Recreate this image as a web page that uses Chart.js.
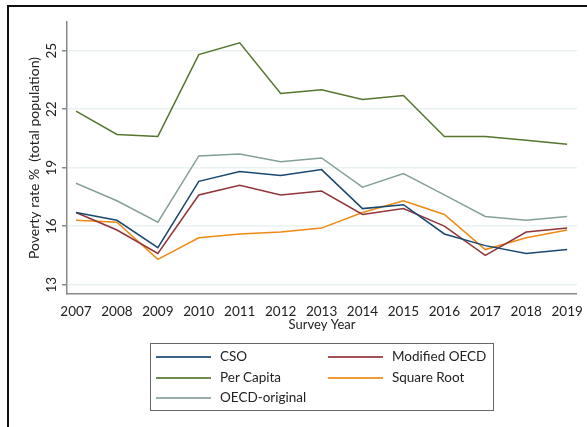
<!DOCTYPE html>
<html>
<head>
<meta charset="utf-8">
<script src="https://cdn.jsdelivr.net/npm/chart.js@4/dist/chart.umd.min.js"></script>
<style>
  body { margin: 0; background: #fff; font-family: Lato, sans-serif; }
  #wrap { position: relative; width: 587px; height: 427px; overflow: hidden; }
  #frame { position: absolute; left: 7px; top: 5px; width: 600px; height: 440px;
           border-left: 2px solid #111; border-top: 2px solid #111; }
  #chart { position: absolute; left: 0; top: 0; }
  #legend { position: absolute; left: 150px; top: 343px; width: 342px; height: 66px;
            border: 1px solid #666; }
  .item { position: absolute; font-size: 13.5px; color: #222; line-height: 16px; }
  .swatch { position: absolute; height: 2px; width: 55px; opacity: 0.85; }
</style>
</head>
<body>
<div id="wrap">
  <div id="frame"></div>
  <canvas id="chart" width="587" height="427"></canvas>
  <div id="legend"></div>
</div>
<script>
// survey years on the x axis
var years = [2007, 2008, 2009, 2010, 2011, 2012, 2013, 2014, 2015, 2016, 2017, 2018, 2019];
var yTicks = [13, 16, 19, 22, 25];

// poverty rate % by equivalence scale
var cso =          [16.7, 16.3, 14.9, 18.3, 18.8, 18.6, 18.9, 16.9, 17.1, 15.6, 15.0, 14.6, 14.8];
var modifiedOecd = [16.7, 15.8, 14.6, 17.6, 18.1, 17.6, 17.8, 16.6, 16.9, 16.0, 14.5, 15.7, 15.9];
var perCapita =    [21.9, 20.7, 20.6, 24.8, 25.4, 22.8, 23.0, 22.5, 22.7, 20.6, 20.6, 20.4, 20.2];
var squareRoot =   [16.3, 16.2, 14.3, 15.4, 15.6, 15.7, 15.9, 16.7, 17.3, 16.6, 14.8, 15.4, 15.8];
var oecdOriginal = [18.2, 17.3, 16.2, 19.6, 19.7, 19.3, 19.5, 18.0, 18.7, 17.6, 16.5, 16.3, 16.5];

var series = [
    { label: 'CSO', data: cso, color: '#1a476f' },
    { label: 'Modified OECD', data: modifiedOecd, color: '#90353b' },
    { label: 'Per Capita', data: perCapita, color: '#55752f' },
    { label: 'Square Root', data: squareRoot, color: '#ee8a12' },
    { label: 'OECD-original', data: oecdOriginal, color: '#86a197' }
];

var axisGrey = '#8a8a8a';
var font = { family: 'Lato', size: 13 };

var datasets = series.map(function(s) {
    return {
        label: s.label,
        data: s.data.map(function(v, i) { return { x: years[i], y: v }; }),
        borderColor: s.color,
        borderWidth: 1.5,
        pointRadius: 0,
        fill: false,
        tension: 0
    };
});

new Chart(document.getElementById('chart').getContext('2d'), {
    type: 'line',
    data: { datasets: datasets },
    options: {
        responsive: false,
        animation: false,
        layout: { padding: { left: 0, right: 10, top: 22, bottom: 94 } },
        plugins: { legend: { display: false }, tooltip: { enabled: false } },
        scales: {
            x: {
                type: 'linear',
                min: 2006.78,
                max: 2019.24,
                afterBuildTicks: function(scale) {
                    scale.ticks = years.map(function(y) { return { value: y }; });
                },
                afterFit: function(scale) { scale.height = 39; },
                grid: { display: false, drawOnChartArea: false, drawTicks: true,
                        tickLength: 6, tickColor: axisGrey },
                border: { display: true, color: axisGrey, width: 1.5 },
                ticks: { color: '#222', font: { family: 'Lato', size: 13.5 }, padding: 4, maxRotation: 0,
                         callback: function(v) { return String(v); } },
                title: { display: true, text: 'Survey Year', color: '#222', font: font,
                         padding: { top: 0, bottom: 0 } }
            },
            y: {
                min: 12.52,
                max: 26.47,
                afterBuildTicks: function(scale) {
                    scale.ticks = yTicks.map(function(v) { return { value: v }; });
                },
                afterFit: function(scale) { scale.width = 67; },
                grid: { color: '#e9f1f2', lineWidth: 1.5, tickLength: 5, tickColor: axisGrey },
                border: { display: true, color: axisGrey, width: 1.5 },
                ticks: { color: '#222', font: { family: 'Lato', size: 13.5 }, padding: 3,
                         minRotation: 90, maxRotation: 90, crossAlign: 'center' },
                title: { display: true, text: 'Poverty rate %  (total population)', color: '#222',
                         font: { family: 'Lato', size: 14 }, padding: { top: 26.5, bottom: 0 } }
            }
        }
    }
});

// legend box laid out in two columns like the original
var legend = document.getElementById('legend');
series.forEach(function(s, i) {
    var col = i % 2, row = Math.floor(i / 2);
    var sw = document.createElement('div');
    sw.className = 'swatch';
    sw.style.background = s.color;
    sw.style.left = (col ? 177 : 5) + 'px';
    sw.style.top = (12 + row * 20.5) + 'px';
    legend.appendChild(sw);
    var tx = document.createElement('div');
    tx.className = 'item';
    tx.textContent = s.label;
    tx.style.left = (col ? 241 : 69) + 'px';
    tx.style.top = (4 + row * 20.5) + 'px';
    legend.appendChild(tx);
});
</script>
</body>
</html>
